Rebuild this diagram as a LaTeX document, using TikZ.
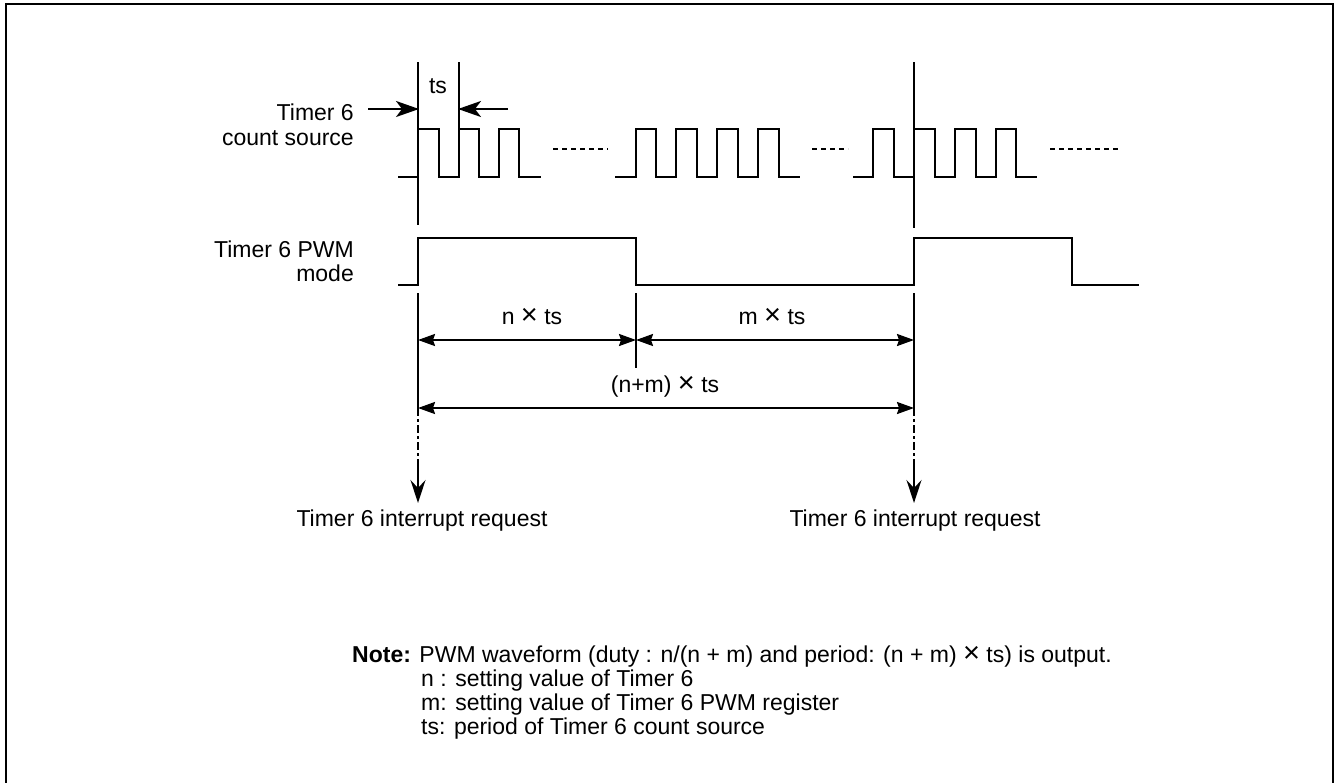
\documentclass[tikz,border=0pt]{standalone}
\usepackage{fontspec}
\setmainfont{Liberation Sans}
\usetikzlibrary{arrows.meta}
\newcommand{\mytimes}{{\fontsize{29}{29}\selectfont ×}}
\begin{document}
\begin{tikzpicture}[x=1pt,y=-1pt,
  wave/.style={line width=2pt, line join=miter},
  marker/.style={line width=1.8pt},
  dotline/.style={line width=1.6pt, dash pattern=on 5pt off 4pt},
  dashdot/.style={line width=1.6pt, dash pattern=on 8pt off 3pt on 3pt off 3pt},
  dimarrow/.style={line width=2pt, {Stealth[length=17pt,width=12pt,inset=2pt]}-{Stealth[length=17pt,width=12pt,inset=2pt]}},
  tsarrow/.style={line width=2pt, -{Stealth[length=23pt,width=16pt,inset=6pt]}},
  downarrow/.style={line width=1.8pt, -{Stealth[length=23pt,width=15pt,inset=8pt]}},
  lbl/.style={font=\fontsize{23}{26}\selectfont, inner sep=0pt},
  frame/.style={line width=2.6pt}
]
\useasboundingbox (0,0) rectangle (1337,782);
\draw[frame] (6,790) -- (6,4) -- (1333,4) -- (1333,790);

% labels left
\node[lbl, anchor=base east] (cs1) at (354,120) {Timer 6};
\node[lbl, anchor=base east] (cs2) at (354,145) {count source};
\node[lbl, anchor=base east] (pw1) at (354,257) {Timer 6 PWM};
\node[lbl, anchor=base east] (pw2) at (354,281) {mode};

% count source waveform
\draw[wave] (398,177) -- (418,177) -- (418,129) -- (439,129) -- (439,177) -- (459,177) -- (459,129) -- (479,129) -- (479,177) -- (499,177) -- (499,129) -- (519,129) -- (519,177) -- (541,177);
\draw[dotline] (553,149) -- (608,149);
\draw[wave] (615,177) -- (636,177) -- (636,129) -- (656,129) -- (656,177) -- (676,177) -- (676,129) -- (697,129) -- (697,177) -- (717,177) -- (717,129) -- (738,129) -- (738,177) -- (758,177) -- (758,129) -- (779,129) -- (779,177) -- (800,177);
\draw[dotline] (812,149) -- (848,149);
\draw[wave] (853,177) -- (873,177) -- (873,129) -- (894,129) -- (894,177) -- (914,177) -- (914,129) -- (935,129) -- (935,177) -- (955,177) -- (955,129) -- (976,129) -- (976,177) -- (996,177) -- (996,129) -- (1016,129) -- (1016,177) -- (1037,177);
\draw[dotline] (1050,149) -- (1120,149);

% PWM waveform
\draw[wave] (398,285) -- (418,285) -- (418,238) -- (636,238) -- (636,285) -- (914,285) -- (914,238) -- (1072,238) -- (1072,285) -- (1139,285);

% marker lines
\coordinate (m1t) at (418,62);
\coordinate (m1b) at (418,225);
\coordinate (m2t) at (459,62);
\coordinate (m2b) at (459,129);
\coordinate (m3t) at (914,62);
\coordinate (m3b) at (914,228);
\draw[marker] (m1t) -- (m1b);
\draw[marker] (m2t) -- (m2b);
\draw[marker] (m3t) -- (m3b);

% ts arrows
\coordinate (tsL) at (368,109);
\coordinate (tsA) at (419,109);
\coordinate (tsB) at (458,109);
\coordinate (tsR) at (508,109);
\draw[tsarrow] (tsL) -- (tsA);
\draw[tsarrow] (tsR) -- (tsB);
\node[lbl, anchor=base] (tslbl) at (438,93) {ts};

% extension lines
\coordinate (e1t) at (418,293);
\coordinate (e1m) at (418,408);
\coordinate (e1d) at (418,463);
\coordinate (e1a) at (418,503);
\coordinate (e2t) at (636,293);
\coordinate (e2b) at (636,368);
\coordinate (e3t) at (914,293);
\coordinate (e3m) at (914,408);
\coordinate (e3d) at (914,463);
\coordinate (e3a) at (914,503);
\draw[marker] (e1t) -- (e1m);
\draw[marker] (e2t) -- (e2b);
\draw[marker] (e3t) -- (e3m);
\draw[dashdot] (e1m) -- (e1d);
\draw[dashdot] (e3m) -- (e3d);
\draw[downarrow] (e1d) -- (e1a);
\draw[downarrow] (e3d) -- (e3a);

% dimension arrows
\coordinate (n1) at (418,340);
\coordinate (n2) at (636,340);
\coordinate (n3) at (914,340);
\coordinate (t1) at (418,408);
\coordinate (t2) at (914,408);
\draw[dimarrow] (n1) -- (n2);
\draw[dimarrow] (n2) -- (n3);
\draw[dimarrow] (t1) -- (t2);
\node[lbl, anchor=base] (nts) at (532,324) {n \mytimes\ ts};
\node[lbl, anchor=base] (mts) at (772,324) {m \mytimes\ ts};
\node[lbl, anchor=base] (nmts) at (665,392) {(n+m) \mytimes\ ts};

% interrupt labels
\node[lbl, anchor=base] (int1) at (422,526) {Timer 6 interrupt request};
\node[lbl, anchor=base] (int2) at (915,526) {Timer 6 interrupt request};

% note
\node[lbl, anchor=base west] (note1) at (352,662) {\textbf{Note:} PWM waveform (duty : n/(n + m) and period: (n + m) \mytimes\ ts) is output.};
\node[lbl, anchor=base west] (note2) at (421,686) {n : setting value of Timer 6};
\node[lbl, anchor=base west] (note3) at (421,710) {m: setting value of Timer 6 PWM register};
\node[lbl, anchor=base west] (note4) at (421,734) {ts: period of Timer 6 count source};
\end{tikzpicture}
\end{document}
